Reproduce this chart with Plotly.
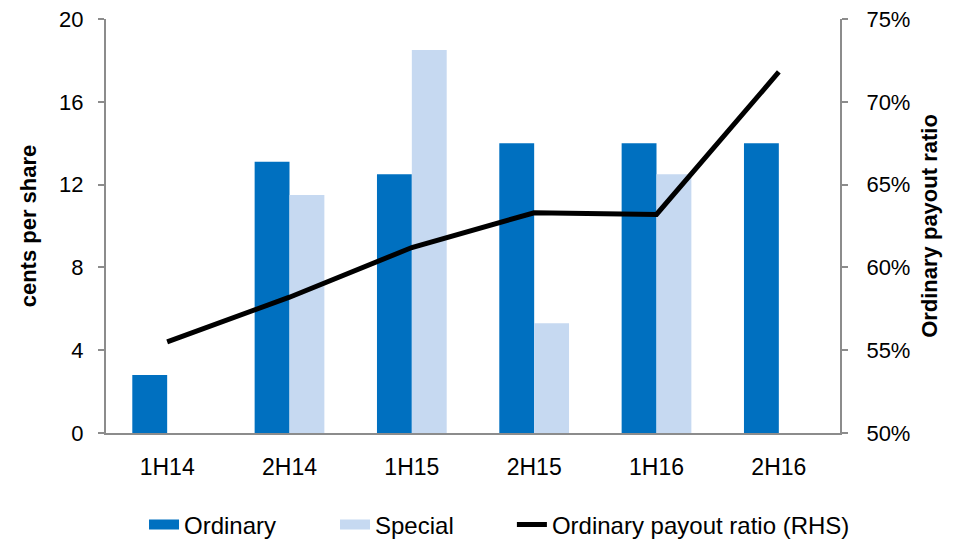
import plotly.graph_objects as go

categories = ["1H14", "2H14", "1H15", "2H15", "1H16", "2H16"]
ordinary = [2.8, 13.1, 12.5, 14.0, 14.0, 14.0]
special = [None, 11.5, 18.5, 5.3, 12.5, None]
payout_ratio = [55.5, 58.2, 61.2, 63.3, 63.2, 71.8]

left_ticks = [0, 4, 8, 12, 16, 20]
right_ticks = [50, 55, 60, 65, 70, 75]
right_tick_text = [f"{v}%" for v in right_ticks]

FONT = "Liberation Sans, Arial, sans-serif"
AXIS_COLOR = "#8c8c8c"
ORD_COLOR = "#0070C0"
SPE_COLOR = "#C6D9F1"

fig = go.Figure()
fig.add_trace(go.Bar(x=categories, y=ordinary, name="Ordinary", showlegend=False,
                     marker=dict(color=ORD_COLOR, line=dict(width=0))))
fig.add_trace(go.Bar(x=categories, y=special, name="Special", showlegend=False,
                     marker=dict(color=SPE_COLOR, line=dict(width=0))))
fig.add_trace(go.Scatter(x=categories, y=payout_ratio, name="Ordinary payout ratio (RHS)",
                         mode="lines", yaxis="y2", showlegend=False,
                         line=dict(color="black", width=5)))
# legend entries (wide swatches like the original), one legend each for exact placement
fig.add_trace(go.Scatter(x=[None], y=[None], name="Ordinary", mode="lines", legend="legend",
                         line=dict(color=ORD_COLOR, width=11)))
fig.add_trace(go.Scatter(x=[None], y=[None], name="Special", mode="lines", legend="legend2",
                         line=dict(color=SPE_COLOR, width=11)))
fig.add_trace(go.Scatter(x=[None], y=[None], name="Ordinary payout ratio (RHS)", mode="lines",
                         legend="legend3", line=dict(color="black", width=5)))

legend_common = dict(orientation="h", xanchor="left", yref="container", y=0.041,
                     yanchor="middle", font=dict(size=24, family=FONT), itemwidth=30,
                     bgcolor="rgba(0,0,0,0)")

fig.update_layout(
    width=953, height=539,
    margin=dict(l=98, r=121, t=11, b=114),
    paper_bgcolor="white", plot_bgcolor="white",
    font=dict(family=FONT, size=22, color="black"),
    barmode="group", bargap=0.43, bargroupgap=0,
    showlegend=True,
    legend=dict(x=0.0518, **legend_common),
    legend2=dict(x=0.312, **legend_common),
    legend3=dict(x=0.553, **legend_common),
    xaxis=dict(showline=True, linecolor=AXIS_COLOR, linewidth=2, ticks="",
               tickfont=dict(size=23), ticklabelstandoff=12, showgrid=False,
               zeroline=False, automargin=False, ticklabeloverflow="allow"),
    yaxis=dict(range=[0, 20], tickvals=left_ticks, showline=True, linecolor=AXIS_COLOR,
               linewidth=2, ticks="outside", ticklen=6, tickcolor=AXIS_COLOR, tickwidth=2,
               showgrid=False, zeroline=False, tickfont=dict(size=22), ticklabelstandoff=10,
               automargin=False, ticklabeloverflow="allow",
               title=dict(text="<b>cents per share</b>", font=dict(size=22), standoff=16)),
    yaxis2=dict(range=[50, 75], tickvals=right_ticks, ticktext=right_tick_text,
                overlaying="y", side="right", showline=True, linecolor=AXIS_COLOR, linewidth=2,
                ticks="outside", ticklen=6, tickcolor=AXIS_COLOR, tickwidth=2,
                showgrid=False, zeroline=False, tickfont=dict(size=22), ticklabelstandoff=14,
                automargin=False, ticklabeloverflow="allow",
                title=dict(text="<b>Ordinary payout ratio</b>", font=dict(size=22), standoff=12)),
)

fig.write_html("out.html")
